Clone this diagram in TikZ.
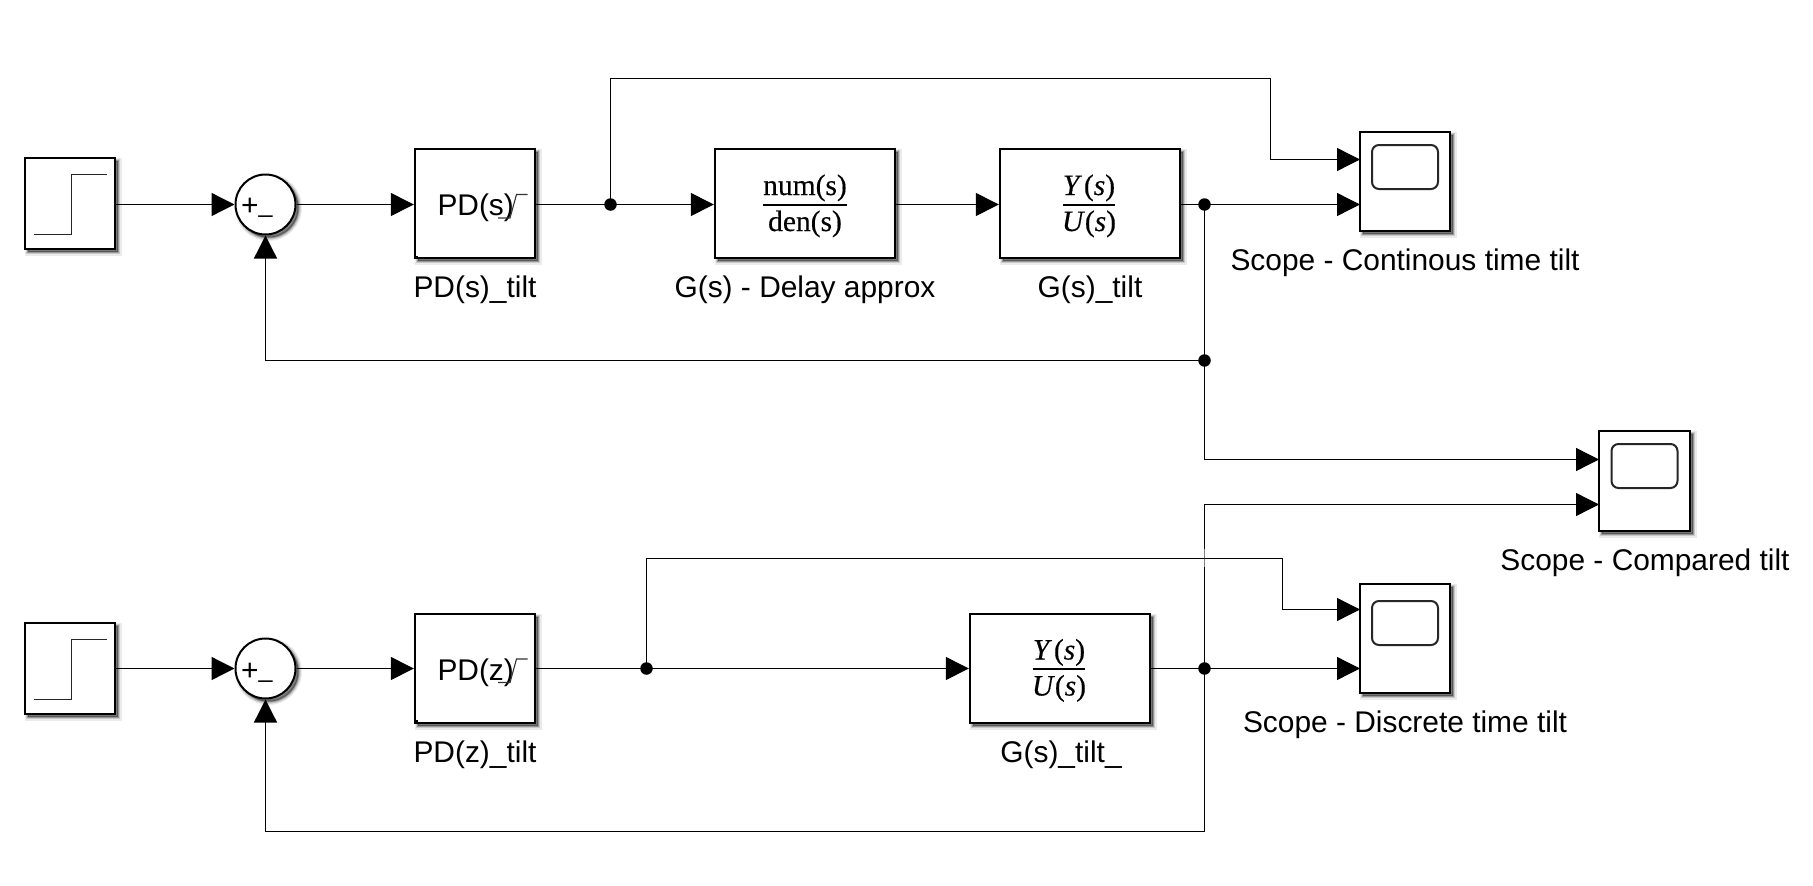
\documentclass[tikz,border=0pt]{standalone}
\usepackage{fontspec}
\setmainfont{Liberation Sans}
\newfontfamily\fracfont[FakeBold=0.35]{Liberation Serif}
\usetikzlibrary{arrows.meta,shadows}
\tikzset{
  softshadow/.style={
    general shadow={shadow xshift=3pt,shadow yshift=-3pt,draw=black,fill=black,line width=7pt,draw opacity=.08,fill opacity=.08},
    general shadow={shadow xshift=3pt,shadow yshift=-3pt,draw=black,fill=black,line width=4.5pt,draw opacity=.14,fill opacity=.14},
    general shadow={shadow xshift=3pt,shadow yshift=-3pt,draw=black,fill=black,line width=2pt,draw opacity=.25,fill opacity=.25}},
  block/.style={rectangle,draw=black,fill=white,line width=2.4pt,inner sep=0pt,softshadow},
  sumblock/.style={circle,draw=black,fill=white,line width=2pt,inner sep=0pt,minimum size=60pt,softshadow},
  screen/.style={rectangle,rounded corners=7pt,draw=black!85,line width=2pt,inner sep=0pt,minimum width=66pt,minimum height=44pt},
  wire/.style={draw=black,line width=1.3pt},
  arr/.style={wire,-{Triangle[length=23pt,width=23pt]}},
  dot/.style={circle,fill=black,inner sep=0pt,minimum size=12.5pt},
  lbl/.style={inner sep=0pt,anchor=base,font=\fontsize{29.9}{32}\selectfont},
  inner/.style={inner sep=0pt,anchor=base west,font=\fontsize{29.9}{32}\selectfont},
  sgn/.style={inner sep=0pt,anchor=base west},
  frac/.style={inner sep=0pt,anchor=base,font=\fontsize{29.5}{32}\fracfont\selectfont},
  fracbar/.style={draw=black,line width=2pt},
  glyph/.style={draw=black!85,line width=1.7pt},
  tail/.style={draw=black!80,line width=1.1pt}
}
\newcommand{\sumsigns}{{\fontsize{30}{30}\selectfont +}{\fontsize{25}{30}\selectfont\raisebox{3pt}{\_}}}
\newcommand{\fracY}{\textit{Y}\kern2pt(\textit{s})}
\newcommand{\fracU}{\textit{U}(\textit{s})}
\begin{document}
\begin{tikzpicture}[x=1pt,y=-1pt]
\useasboundingbox (0,0) rectangle (1813,886);
\fill[white] (0,0) rectangle (1813,886);

% --- blocks, upper row
\node[block,minimum width=90pt,minimum height=91pt] (step1) at (70,203.5) {};
\node[sumblock] (sum1) at (265.5,204.5) {};
\node[block,minimum width=120pt,minimum height=109pt] (pds) at (475,203.5) {};
\node[block,minimum width=180pt,minimum height=109pt] (num) at (805,203.5) {};
\node[block,minimum width=180pt,minimum height=109pt] (gs) at (1090,203.5) {};
\node[block,minimum width=90pt,minimum height=99pt] (scope1) at (1405,181.5) {};
% --- blocks, middle
\node[block,minimum width=91pt,minimum height=100pt] (scope2) at (1644.5,481) {};
% --- blocks, lower row
\node[block,minimum width=90pt,minimum height=91pt] (step2) at (70,668.5) {};
\node[sumblock] (sum2) at (265.5,668.5) {};
\node[block,minimum width=120pt,minimum height=109pt] (pdz) at (475,668.5) {};
\node[block,minimum width=180pt,minimum height=109pt] (gz) at (1060,668.5) {};
\node[block,minimum width=90pt,minimum height=109pt] (scope3) at (1405,638.5) {};

% --- scope screens
\node[screen] (screen1) at (1405,167) {};
\node[screen] (screen2) at (1644.5,466) {};
\node[screen] (screen3) at (1405,623) {};

% --- step glyphs
\draw[glyph] (34,234.5) -- (71.5,234.5) -- (71.5,174.5) -- (107,174.5);
\draw[glyph] (34,699.5) -- (71.5,699.5) -- (71.5,639.5) -- (107,639.5);

% --- sum signs
\node[sgn] (sign1) at (241,215.5) {\sumsigns};
\node[sgn] (sign2) at (241,680) {\sumsigns};

% --- block contents
\node[inner] (pdstext) at (437.3,215.5) {PD(s)};
\draw[tail] (498,218) -- (510,218) -- (516.5,194.5) -- (527.5,194.5);
\fill[black] (414,255.5) rectangle (418,259);
\node[inner] (pdztext) at (437.3,680) {PD(z)};
\draw[tail] (498,682.5) -- (510,682.5) -- (516.5,659) -- (527.5,659);
\fill[black] (414,720) rectangle (418,724);

\node[frac] (numtop) at (805,195) {num(s)};
\draw[fracbar] (763,204.5) -- (847,204.5);
\node[frac] (numbot) at (805,231) {den(s)};

\node[frac] (gtop) at (1089,195) {\fracY};
\draw[fracbar] (1063,204.5) -- (1115,204.5);
\node[frac] (gbot) at (1089,231) {\fracU};

\node[frac] (gztop) at (1059,659.5) {\fracY};
\draw[fracbar] (1033,669) -- (1085,669);
\node[frac] (gzbot) at (1059,695.5) {\fracU};

% --- labels
\node[lbl] (l1) at (475,297) {PD(s)\_tilt};
\node[lbl] (l2) at (805,297) {G(s) - Delay approx};
\node[lbl] (l3) at (1090,297) {G(s)\_tilt};
\node[lbl] (l4) at (1405,270) {Scope - Continous time tilt};
\node[lbl] (l5) at (1645,570) {Scope - Compared tilt};
\node[lbl] (l6) at (1405,732) {Scope - Discrete time tilt};
\node[lbl] (l7) at (475,762) {PD(z)\_tilt};
\node[lbl] (l8) at (1061,762) {G(s)\_tilt\_};

% --- junctions
\node[dot] (j1) at (610.5,204.5) {};
\node[dot] (j2) at (1204.5,204.5) {};
\node[dot] (j3) at (1204.5,360.5) {};
\node[dot] (j4) at (646.5,668.5) {};
\node[dot] (j5) at (1204.5,668.5) {};

% --- ports and bends
\coordinate (p1a) at (1360,159.5);
\coordinate (p1b) at (1360,204.5);
\coordinate (p2a) at (1599,459.5);
\coordinate (p2b) at (1599,504.5);
\coordinate (p3a) at (1360,609.5);
\coordinate (p3b) at (1360,668.5);
\coordinate (b1) at (610.5,78.5);
\coordinate (b2) at (1270.5,78.5);
\coordinate (b3) at (1270.5,159.5);
\coordinate (b4) at (646.5,558.5);
\coordinate (b5) at (1282.5,558.5);
\coordinate (b6) at (1282.5,609.5);
\coordinate (b7) at (1204.5,831.5);
\coordinate (x1) at (1204.5,549);
\coordinate (x2) at (1204.5,567);

% --- connectors, upper row
\draw[arr] (step1.east |- sum1.west) -- (sum1.west);
\draw[arr] (sum1.east) -- (sum1.east -| pds.west);
\draw[wire] (j1.center -| pds.east) -- (j1.center);
\draw[arr] (j1.center) -- (j1.center -| num.west);
\draw[arr] (num.east |- j1.center) -- (j1.center -| gs.west);
\draw[wire] (gs.east |- j2.center) -- (j2.center);
\draw[arr] (j2.center) -- (p1b);
\draw[arr] (j1.center) -- (b1) -- (b2) -- (b3) -- (p1a);
\draw[wire] (j2.center) -- (j3.center);
\draw[arr] (j3.center) -| (sum1.south);
\draw[arr] (j3.center) |- (p2a);

% --- connectors, lower row
\draw[arr] (step2.east) -- (sum2.west);
\draw[arr] (sum2.east) -- (pdz.west);
\draw[wire] (pdz.east) -- (j4.center);
\draw[arr] (j4.center) -- (gz.west);
\draw[wire] (gz.east) -- (j5.center);
\draw[arr] (j5.center) -- (p3b);
\draw[arr] (j5.center) |- (p2b);
\draw[arr] (j5.center) -- (b7) -| (sum2.south);
\draw[white,opacity=.5,line width=1.6pt] (x1) -- (x2);
\draw[arr] (j4.center) -- (b4) -- (b5) -- (b6) -- (p3a);
\end{tikzpicture}
\end{document}
